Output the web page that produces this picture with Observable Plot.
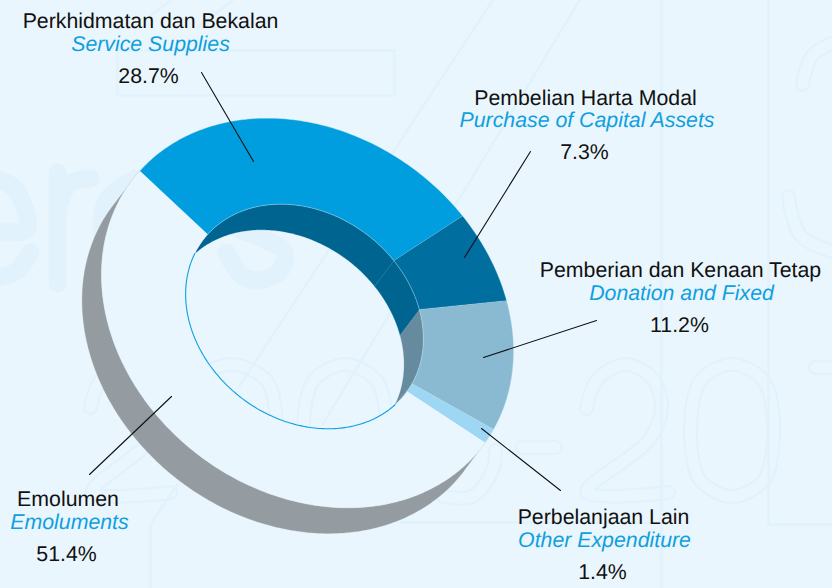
<!DOCTYPE html>
<html>
<head>
<meta charset="utf-8">
<script src="https://cdn.jsdelivr.net/npm/d3@7"></script>
<script src="https://cdn.jsdelivr.net/npm/@observablehq/plot@0.6"></script>
<style>
html,body{margin:0;padding:0;background:#EAF6FD;overflow:hidden}
svg{display:block;text-rendering:geometricPrecision}
</style>
</head>
<body>
<div id="chart"></div>
<script>
// ---- data ----
const categoriesMs = ["Perkhidmatan dan Bekalan", "Pembelian Harta Modal", "Pemberian dan Kenaan Tetap", "Perbelanjaan Lain", "Emolumen"];
const categoriesEn = ["Service Supplies", "Purchase of Capital Assets", "Donation and Fixed", "Other Expenditure", "Emoluments"];
const shares = [28.7, 7.3, 11.2, 1.4, 51.4];
const shareLabels = ["28.7%", "7.3%", "11.2%", "1.4%", "51.4%"];

// ---- styles ----
const faceColors = ["#009EDF", "#006E9F", "#8ABAD2", "#9DD7F4", "#EAF6FD"];
const wallColors = ["#006491", "#006491", "#668B9F", "#668B9F", null];
const sideGray = "#949CA1", bg = "#EAF6FD", ink = "#111111", accent = "#0F9FE0", mark = "#E1F2FC";

// ---- label placement (centre x and baseline of the three lines) ----
const labelX1 = [150, 585, 680, 603, 67.5], labelY1 = [27, 104, 276, 523, 505];
const labelX2 = [150, 586.5, 681, 604, 69], labelY2 = [50, 126, 299, 546, 528];
const labelX3 = [148, 584, 679, 602, 66], labelY3 = [82, 158, 331, 578, 560];
const leaders = [
  [[201,72],[253,161]], [[530,151],[464,257]], [[596,320],[483,357]], [[560,490],[481,428]], [[89,474],[171,396]]
];

// ---- projection of the tilted ring ----
const phi = 37 * Math.PI / 180, ux = Math.cos(phi), uy = Math.sin(phi);
const outer = {cx: 307, cy: 312.5, a: 220, b: 179};
const inner = {cx: 304, cy: 316, a: 127, b: 103};
const depth = 32, startAngle = 184;
function pt(e, deg, d = 0) {
  const t = deg * Math.PI / 180, p = e.a * Math.cos(t), q = e.b * Math.sin(t) + d;
  return {x: e.cx + p * ux - q * uy, y: e.cy + p * uy + q * ux};
}
function arc(e, t1, t2, d = 0) {
  const n = Math.max(2, Math.ceil(Math.abs(t2 - t1))), out = [];
  for (let i = 0; i <= n; i++) out.push(pt(e, t1 + (t2 - t1) * i / n, d));
  return out;
}
const ends = [startAngle, ...d3.cumsum(shares).map(s => startAngle + s * 3.6)];
const tag = (pts, id, fill) => pts.map(p => ({...p, id, fill}));

// top faces
const faces = shares.flatMap((_, i) =>
  tag([...arc(outer, ends[i], ends[i + 1]), ...arc(inner, ends[i + 1], ends[i])], "f" + i, faceColors[i]));

// outer side: swept from the emoluments arc
const sideStart = ends[4] - 360, sideEnd = ends[5] - 360;
const side = tag([...arc(outer, sideStart, sideEnd), ...arc(outer, Math.min(sideEnd, 180), Math.max(sideStart, 0), depth)], "side", sideGray);

// inner wall: crescent between top rim and lowered rim
const tip = Math.asin(depth / 2 / inner.b) * 180 / Math.PI;
const rimLo = 180 - tip, rimHi = 360 + tip, lowLo = 180 + tip, lowHi = 360 - tip;
const walls = [0, 1, 2, 3].flatMap(i => {
  const t1 = i === 0 ? rimLo : ends[i], t2 = i === 3 ? rimHi : ends[i + 1];
  const l1 = Math.max(ends[i], lowLo), l2 = Math.min(ends[i + 1], lowHi);
  const low = i === 0 ? arc(inner, l2, lowLo, depth) : (l2 > l1 ? arc(inner, l2, l1, depth) : []);
  return tag([...arc(inner, t1, t2), ...low], "w" + i, wallColors[i]);
});
const rimLine = arc(inner, rimHi - 360, rimLo);

// ---- faint printed backdrop, drawn as strokes ----
const zero = (l, r) => {
  const c = (l + r) / 2;
  return [[l,410],[l+9,380],[c,364],[r-9,380],[r,410],[r,450],[r-9,480],[c,496],[l+9,480],[l,450],[l,410]];
};
const solidStrokes = [
  [[-12,176],[14,188],[26,229],[-12,229]], [[30,252],[14,272],[-12,278]],
  [[57,283],[57,172]], [[57,210],[68,184],[90,178]],
  [[135,178],[106,200],[102,232],[108,265],[135,280]],
  [[226,252],[240,274],[258,280],[280,270],[284,252],[262,238],[240,230]]
];
const outlineStrokes = [
  zero(187, 275), zero(304, 385), zero(691, 772),
  [[90,407],[100,380],[130,364],[158,380],[163,410],[150,440],[92,492],[170,492]],
  [[586,408],[596,380],[624,364],[652,378],[661,408],[648,440],[586,492],[668,492]],
  [[443,496],[472,496],[492,470],[495,450]],
  [[522,447],[555,447]],
  [[802,84],[812,55],[838,40]], [[788,196],[800,235],[838,253]],
  [[815,367],[838,367]]
];
const thinLines = [
  [[492,0],[238,387]], [[579,0],[322,424]], [[232,0],[197,27]], [[170,0],[150,15]],
  [[661,0],[661,588]], [[768,0],[768,524]], [[768,524],[832,524]], [[400,522],[661,522]],
  [[177,484],[150,524]], [[150,524],[150,588]],
  [[117,50],[394,50],[394,95],[117,95],[117,50]]
];
const toPts = list => list.flatMap((s, i) => s.map(([x, y]) => ({x, y, id: i})));
const leadPts = toPts(leaders);
const labels = shares.map((_, i) => ({i}));
const textOpts = {fontSize: 21.3, fontFamily: "Liberation Sans", textAnchor: "middle", lineAnchor: "bottom"};

const plot = Plot.plot({
  width: 832, height: 588,
  margin: 0,
  x: {domain: [0, 832], range: [0, 832], axis: null},
  y: {domain: [0, 588], range: [0, 588], axis: null},
  color: {type: "identity"},
  style: {background: bg},
  marks: [
    Plot.line(toPts(solidStrokes), {x: "x", y: "y", z: "id", stroke: mark, strokeWidth: 18, curve: "catmull-rom"}),
    Plot.line(toPts(outlineStrokes), {x: "x", y: "y", z: "id", stroke: mark, strokeWidth: 15, curve: "catmull-rom"}),
    Plot.line(toPts(outlineStrokes), {x: "x", y: "y", z: "id", stroke: bg, strokeWidth: 10.5, curve: "catmull-rom"}),
    Plot.line(toPts(thinLines), {x: "x", y: "y", z: "id", stroke: mark, strokeWidth: 2.5}),
    Plot.line(side, {x: "x", y: "y", z: "id", fill: "fill", stroke: "fill", strokeWidth: 0.3}),
    Plot.line(walls, {x: "x", y: "y", z: "id", fill: "fill", stroke: "fill", strokeWidth: 0.3}),
    Plot.line(faces, {x: "x", y: "y", z: "id", fill: "fill", stroke: "#D4ECF7", strokeWidth: 0.4}),
    Plot.line(rimLine, {x: "x", y: "y", stroke: "#12A0E2", strokeWidth: 1.1}),
    Plot.line(leadPts, {x: "x", y: "y", z: "id", stroke: "#111111", strokeWidth: 1.1}),
    Plot.text(labels, {...textOpts, x: d => labelX1[d.i], y: d => labelY1[d.i], text: d => categoriesMs[d.i], fill: ink}),
    Plot.text(labels, {...textOpts, x: d => labelX2[d.i], y: d => labelY2[d.i], text: d => categoriesEn[d.i], fontStyle: "italic", fill: accent}),
    Plot.text(labels, {...textOpts, x: d => labelX3[d.i], y: d => labelY3[d.i], text: d => shareLabels[d.i], fill: ink})
  ]
});
document.getElementById("chart").append(plot);
</script>
</body>
</html>
